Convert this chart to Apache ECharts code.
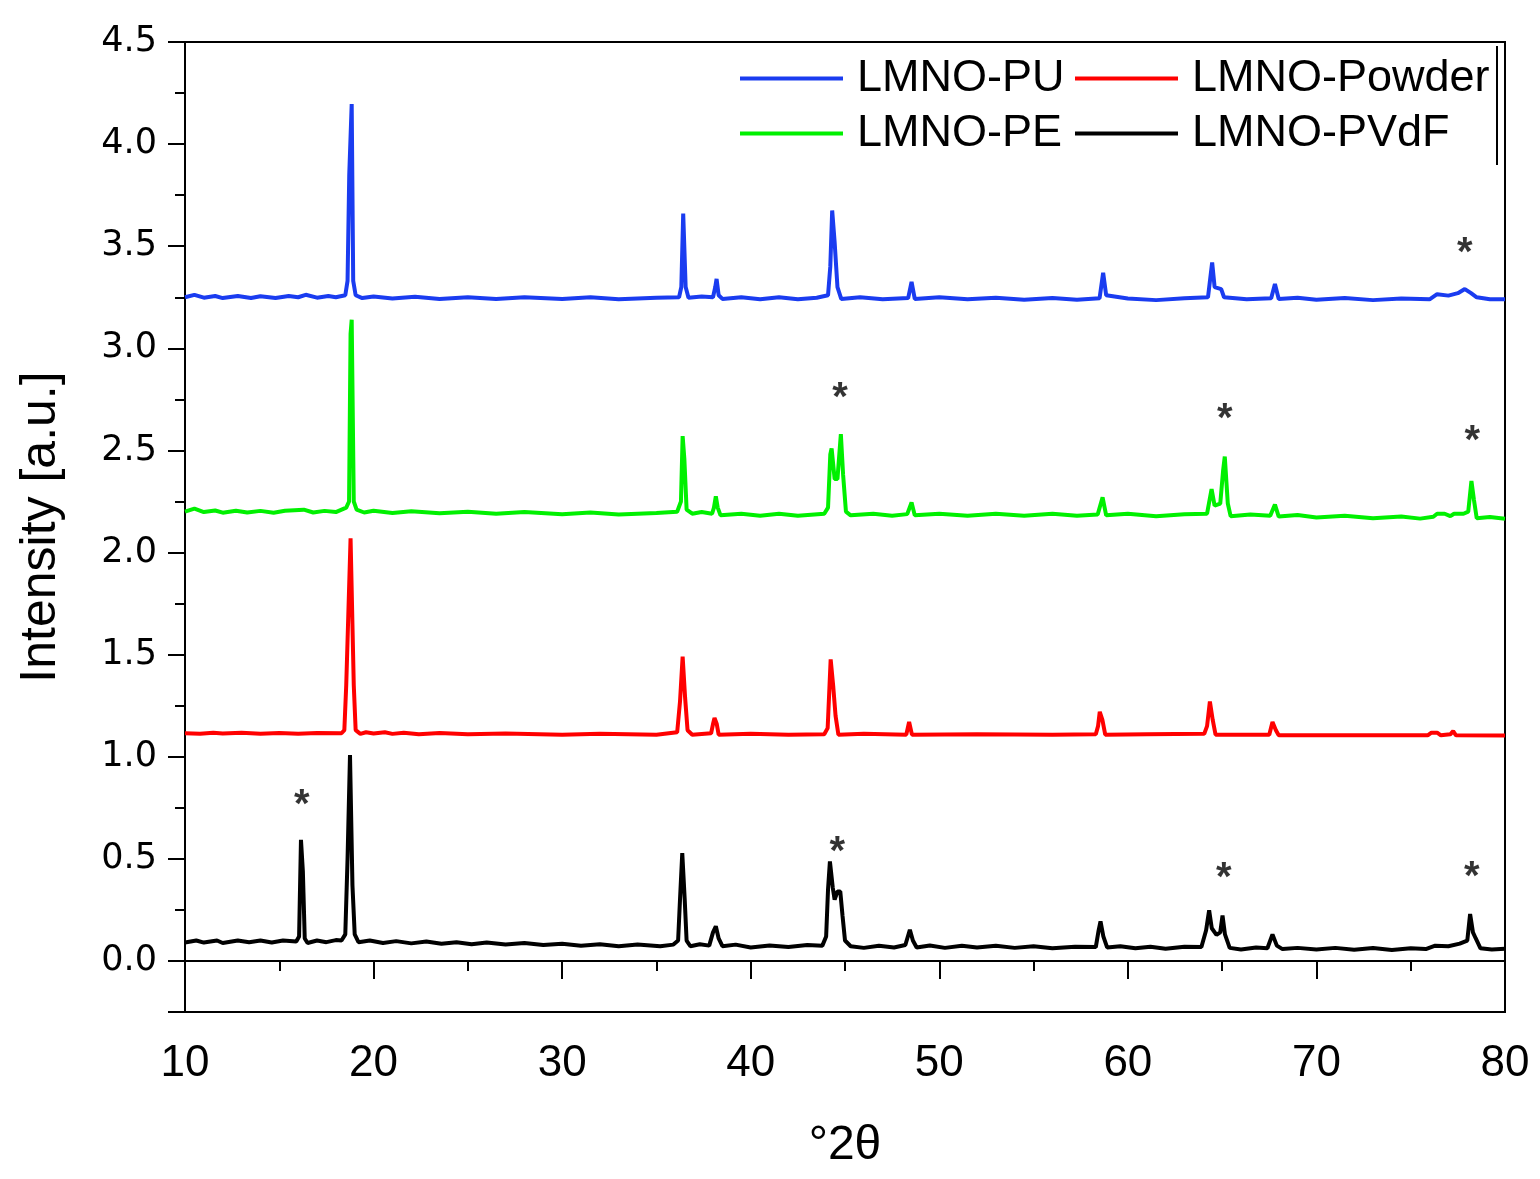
<!DOCTYPE html>
<html>
<head>
<meta charset="utf-8">
<title>XRD LMNO</title>
<script src="https://cdn.jsdelivr.net/npm/echarts@6/dist/echarts.min.js"></script>
<style>
  html, body { margin: 0; padding: 0; background: #fff; }
  #chart { width: 1540px; height: 1179px; }
</style>
</head>
<body>
<div id="chart"></div>
<script>
// 2theta / intensity pairs
var pvdf = [
  [10.0,0.09],[10.6,0.1],[11.0,0.09],[11.7,0.1],[12.0,0.088],[12.8,0.1],[13.4,0.092],[14.0,0.1],
  [14.6,0.09],[15.2,0.1],[15.9,0.095],[16.05,0.12],[16.15,0.593],[16.25,0.44],[16.35,0.11],
  [16.5,0.088],[17.0,0.1],[17.5,0.092],[18.0,0.102],[18.3,0.1],[18.5,0.13],[18.62,0.5],
  [18.75,1.008],[18.88,0.37],[19.0,0.13],[19.2,0.092],[19.8,0.1],[20.5,0.088],[21.2,0.097],
  [22,0.086],[22.8,0.095],[23.6,0.084],[24.4,0.092],[25.2,0.082],[26,0.09],[27,0.08],
  [28,0.088],[29,0.078],[30,0.084],[31,0.074],[32,0.082],[33,0.072],[34,0.08],[35.2,0.072],
  [35.9,0.08],[36.15,0.1],[36.25,0.3],[36.37,0.528],[36.5,0.3],[36.6,0.1],[36.8,0.072],
  [37.3,0.082],[37.8,0.075],[38.0,0.14],[38.15,0.17],[38.3,0.11],[38.5,0.072],[39.2,0.08],
  [40,0.066],[41,0.076],[42,0.068],[43,0.078],[43.8,0.075],[44.0,0.12],[44.1,0.35],
  [44.2,0.487],[44.35,0.36],[44.45,0.3],[44.6,0.34],[44.75,0.34],[44.87,0.22],[45.0,0.1],
  [45.3,0.072],[46,0.064],[46.8,0.074],[47.6,0.066],[48.2,0.078],[48.44,0.153],[48.6,0.1],
  [48.8,0.066],[49.5,0.076],[50.3,0.064],[51.2,0.074],[52,0.066],[53,0.074],[54,0.064],
  [55,0.072],[56,0.062],[57.2,0.07],[58.3,0.068],[58.45,0.15],[58.55,0.194],[58.7,0.12],
  [58.9,0.066],[59.6,0.072],[60.4,0.062],[61.2,0.07],[62,0.06],[63,0.07],[63.9,0.068],
  [64.15,0.15],[64.31,0.248],[64.45,0.16],[64.7,0.128],[64.9,0.14],[65.02,0.223],[65.15,0.13],
  [65.4,0.064],[66,0.056],[66.8,0.066],[67.4,0.062],[67.67,0.13],[67.9,0.075],[68.2,0.058],
  [69,0.064],[70,0.056],[71,0.064],[72,0.055],[73,0.063],[74,0.054],[75,0.062],[75.8,0.058],
  [76.3,0.075],[77,0.072],[77.6,0.085],[78.0,0.1],[78.15,0.23],[78.3,0.14],[78.45,0.11],
  [78.7,0.062],[79.3,0.056],[80,0.06]
];
var powder = [
  [10,1.115],[10.8,1.112],[11.5,1.118],[12,1.114],[13,1.117],[14,1.113],[15,1.116],[16,1.112],
  [17,1.116],[18.3,1.115],[18.45,1.13],[18.55,1.35],[18.78,2.07],[18.95,1.35],[19.05,1.13],
  [19.3,1.112],[19.6,1.12],[20,1.114],[20.6,1.12],[21,1.112],[21.6,1.118],[22.4,1.11],
  [23.5,1.116],[25,1.11],[27,1.114],[30,1.108],[32,1.112],[35,1.108],[36.1,1.12],[36.25,1.27],
  [36.39,1.49],[36.52,1.29],[36.65,1.13],[36.9,1.108],[37.9,1.115],[38.0,1.16],[38.08,1.19],
  [38.2,1.16],[38.3,1.108],[40,1.112],[42,1.108],[43.9,1.11],[44.08,1.14],[44.24,1.477],
  [44.38,1.34],[44.5,1.2],[44.65,1.108],[46,1.112],[48.25,1.108],[48.4,1.17],[48.55,1.108],
  [52,1.11],[56,1.108],[58.3,1.11],[58.42,1.15],[58.51,1.22],[58.65,1.18],[58.8,1.108],
  [61,1.11],[64.05,1.112],[64.2,1.15],[64.35,1.27],[64.5,1.18],[64.65,1.108],[67.5,1.108],
  [67.67,1.17],[67.85,1.13],[68,1.105],[72,1.105],[75.9,1.105],[76.1,1.118],[76.4,1.118],
  [76.6,1.105],[77.1,1.11],[77.25,1.125],[77.4,1.105],[80,1.104]
];
var pe = [
  [10,2.2],[10.5,2.215],[11,2.198],[11.6,2.206],[12,2.195],[12.7,2.205],[13.3,2.196],
  [14,2.204],[14.7,2.195],[15.3,2.205],[16.3,2.21],[16.8,2.196],[17.4,2.204],[18,2.198],
  [18.55,2.22],[18.7,2.25],[18.78,3.07],[18.84,3.14],[18.95,2.25],[19.1,2.21],[19.5,2.196],
  [20,2.205],[21,2.194],[22,2.202],[23.5,2.192],[25,2.2],[26.5,2.19],[28,2.198],[30,2.188],
  [31.5,2.196],[33,2.186],[35,2.194],[36.1,2.2],[36.3,2.25],[36.39,2.57],[36.48,2.46],
  [36.6,2.21],[36.9,2.19],[37.4,2.198],[37.95,2.19],[38.05,2.22],[38.15,2.275],[38.25,2.22],
  [38.4,2.182],[39.5,2.19],[40.5,2.18],[41.5,2.19],[42.5,2.18],[43.9,2.19],[44.1,2.22],
  [44.22,2.48],[44.29,2.51],[44.45,2.36],[44.6,2.36],[44.78,2.58],[44.9,2.38],[45.05,2.2],
  [45.3,2.182],[46.5,2.19],[47.5,2.18],[48.3,2.188],[48.53,2.245],[48.7,2.182],[50,2.19],
  [51.5,2.18],[53,2.19],[54.5,2.18],[56,2.19],[57.3,2.18],[58.4,2.186],[58.66,2.27],
  [58.85,2.182],[60,2.19],[61.5,2.178],[63,2.188],[64.2,2.19],[64.44,2.31],[64.6,2.23],
  [64.9,2.24],[65.05,2.4],[65.14,2.47],[65.3,2.24],[65.45,2.178],[66.5,2.186],[67.55,2.18],
  [67.8,2.235],[68,2.176],[69,2.184],[70,2.172],[71.5,2.18],[73,2.168],[74.5,2.176],
  [75.5,2.166],[76.2,2.175],[76.4,2.19],[76.8,2.19],[77.1,2.178],[77.3,2.19],[77.8,2.19],
  [78.05,2.2],[78.22,2.35],[78.35,2.26],[78.5,2.168],[79.2,2.174],[80,2.165]
];
var pu = [
  [10,3.25],[10.5,3.262],[11,3.248],[11.6,3.256],[12,3.246],[12.8,3.256],[13.5,3.246],
  [14,3.255],[14.8,3.246],[15.5,3.256],[16,3.25],[16.4,3.262],[17,3.248],[17.6,3.256],
  [18,3.25],[18.5,3.26],[18.62,3.33],[18.71,3.85],[18.84,4.196],[18.92,3.33],[19.05,3.26],
  [19.4,3.246],[20,3.254],[21,3.244],[22.2,3.252],[23.5,3.242],[25,3.25],[26.5,3.242],
  [28,3.25],[30,3.242],[31.5,3.25],[33,3.24],[35,3.248],[36.2,3.25],[36.32,3.3],[36.42,3.66],
  [36.55,3.3],[36.7,3.248],[37.4,3.254],[38.0,3.25],[38.12,3.3],[38.19,3.34],[38.3,3.26],
  [38.5,3.242],[39.5,3.25],[40.5,3.24],[41.5,3.25],[42.5,3.24],[43.5,3.248],[44.1,3.26],
  [44.22,3.4],[44.32,3.675],[44.45,3.52],[44.6,3.3],[44.8,3.242],[45.8,3.25],[47,3.24],
  [48.35,3.246],[48.53,3.325],[48.7,3.242],[50,3.25],[51.5,3.24],[53,3.248],[54.5,3.238],
  [56,3.246],[57.3,3.238],[58.5,3.245],[58.69,3.37],[58.85,3.26],[60,3.244],[61.5,3.236],
  [63,3.245],[64.25,3.25],[64.47,3.42],[64.6,3.3],[64.95,3.29],[65.1,3.25],[66.3,3.24],
  [67.6,3.245],[67.8,3.315],[68,3.242],[69,3.248],[70,3.238],[71.5,3.246],[73,3.236],
  [74.5,3.244],[76,3.24],[76.4,3.265],[77,3.258],[77.5,3.27],[77.87,3.29],[78.2,3.27],
  [78.5,3.25],[79.2,3.24],[80,3.24]
];
// positions of the "*" marks
var stars = [
  [16.19,0.80],[44.59,0.57],[65.09,0.44],[78.24,0.445],
  [44.73,2.79],[65.14,2.69],[78.27,2.58],
  [77.87,3.50]
];

var chart = echarts.init(document.getElementById('chart'));

var lineSeries = function (name, data, color) {
  return {
    name: name,
    type: 'line',
    data: data,
    showSymbol: false,
    symbol: 'none',
    lineStyle: { color: color, width: 4 },
    itemStyle: { color: color },
    animation: false
  };
};

var legendText = { fontFamily: 'Liberation Sans', fontSize: 45, color: '#000', lineHeight: 45, padding: [0, 0, 0, 9] };

var option = {
  backgroundColor: '#fff',
  animation: false,
  grid: {
    left: 185, top: 42, right: 35, bottom: 167,
    show: true, borderColor: '#000', borderWidth: 2, backgroundColor: 'transparent'
  },
  legend: [
    {
      data: ['LMNO-PU', 'LMNO-PE'],
      orient: 'vertical', left: 740, top: 56, padding: 0,
      icon: 'rect', itemWidth: 103, itemHeight: 4, itemGap: 10,
      textStyle: legendText
    },
    {
      data: ['LMNO-Powder', 'LMNO-PVdF'],
      orient: 'vertical', left: 1075, top: 56, padding: 0,
      icon: 'rect', itemWidth: 103, itemHeight: 4, itemGap: 10,
      textStyle: legendText
    }
  ],
  graphic: [
    { type: 'line', shape: { x1: 1497, y1: 46, x2: 1497, y2: 165 }, style: { stroke: '#000', lineWidth: 2 } }
  ],
  xAxis: {
    type: 'value', min: 10, max: 80, interval: 10,
    name: '°2θ', nameLocation: 'middle', nameGap: 110,
    nameTextStyle: { fontFamily: 'Liberation Sans', fontSize: 48, color: '#000' },
    axisLine: { lineStyle: { color: '#000', width: 2 } },
    axisTick: { show: true, length: 18, lineStyle: { color: '#000', width: 2 } },
    minorTick: { show: true, splitNumber: 2, length: 10, lineStyle: { color: '#000', width: 2 } },
    axisLabel: { margin: 30, fontFamily: 'Liberation Sans', fontSize: 44, color: '#000' },
    splitLine: { show: false }
  },
  yAxis: {
    type: 'value', min: -0.25, max: 4.5, splitNumber: 10,
    name: 'Intensity [a.u.]', nameLocation: 'middle', nameGap: 119,
    nameTextStyle: { fontFamily: 'Liberation Sans', fontSize: 50, color: '#000' },
    axisLine: { lineStyle: { color: '#000', width: 2 } },
    axisTick: { show: true, length: 17, lineStyle: { color: '#000', width: 2 } },
    minorTick: { show: true, splitNumber: 2, length: 10, lineStyle: { color: '#000', width: 2 } },
    axisLabel: {
      margin: 28, fontFamily: 'DejaVu Sans', fontSize: 35, color: '#000',
      showMinLabel: false,
      formatter: function (v) { return v.toFixed(1); }
    },
    splitLine: { show: false }
  },
  series: [
    lineSeries('LMNO-PU', pu, '#1a3cf0'),
    lineSeries('LMNO-Powder', powder, '#ff0000'),
    lineSeries('LMNO-PE', pe, '#00f000'),
    lineSeries('LMNO-PVdF', pvdf, '#000000'),
    {
      type: 'scatter',
      data: stars,
      symbolSize: 0,
      silent: true,
      label: {
        show: true, position: 'inside', formatter: '*',
        fontFamily: 'Liberation Sans', fontSize: 40, fontWeight: 'bold', color: '#000',
        offset: [0, 8]
      }
    }
  ]
};

chart.setOption(option);
window.onresize = chart.resize;
</script>
</body>
</html>
